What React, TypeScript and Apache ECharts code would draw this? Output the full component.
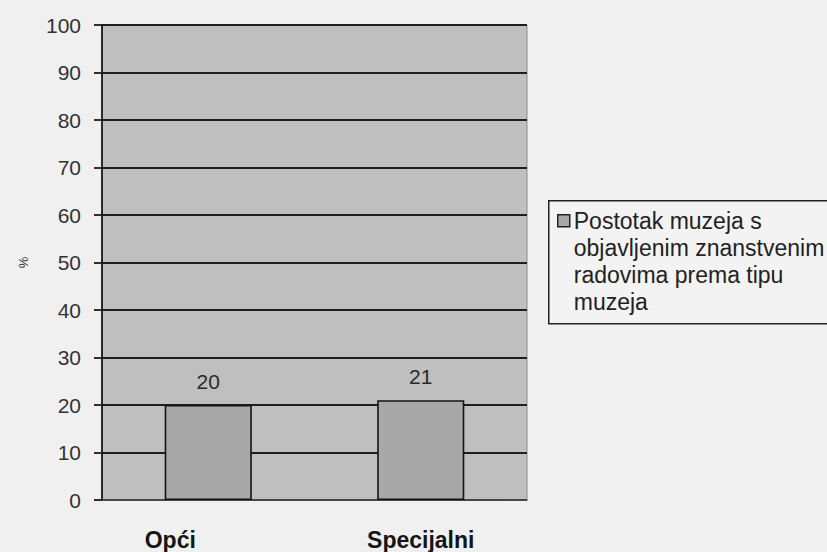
import React, { useEffect, useRef } from "react";
import * as echarts from "echarts";

// Chart data
const categories = ["Opći", "Specijalni"];
const percentValues = [20, 21];
const seriesName = "Postotak muzeja s objavljenim znanstvenim radovima prema tipu muzeja";
const legendLines = ["Postotak muzeja s", "objavljenim znanstvenim", "radovima prema tipu", "muzeja"];
const yTickMin = 0;
const yTickMax = 100;
const yTickStep = 10;
const yAxisTitle = "%";

const FONT = "'Liberation Sans', Arial, Helvetica, sans-serif";

export default function App() {
  const ref = useRef<HTMLDivElement>(null);

  useEffect(() => {
    if (!ref.current) return;
    const chart = echarts.init(ref.current, undefined, { renderer: "svg" });

    // horizontal nudge of each category caption (in px of right padding)
    const captionShift = [76, 0];

    chart.setOption({
      animation: false,
      backgroundColor: "#f0f0f0",
      textStyle: { fontFamily: FONT },
      grid: {
        left: 102,
        right: 300,
        top: 25,
        bottom: 52,
        show: true,
        backgroundColor: "#bfbfbf",
        borderColor: "#8c8c8c",
        borderWidth: 1,
      },
      xAxis: {
        type: "category",
        data: categories.map((c, i) => ({
          value: c,
          textStyle: { padding: [0, captionShift[i], 0, 0] },
        })),
        axisTick: { show: false },
        axisLine: { lineStyle: { color: "#555", width: 1.5 } },
        axisLabel: {
          margin: 28,
          fontSize: 23,
          fontWeight: "bold",
          color: "#151515",
          fontFamily: FONT,
        },
      },
      yAxis: {
        type: "value",
        min: yTickMin,
        max: yTickMax,
        interval: yTickStep,
        name: yAxisTitle,
        nameLocation: "middle",
        nameRotate: 90,
        nameGap: 72,
        nameTextStyle: { fontSize: 13, color: "#333", fontFamily: FONT },
        axisLine: { show: true, lineStyle: { color: "#1a1a1a", width: 1.8 } },
        axisTick: { show: true, length: 8, lineStyle: { color: "#1a1a1a", width: 1.8 } },
        axisLabel: { margin: 21, fontSize: 21, color: "#333", fontFamily: FONT },
        splitLine: { show: true, lineStyle: { color: "#1e1e1e", width: 2 } },
      },
      series: [
        {
          name: seriesName,
          type: "bar",
          data: percentValues,
          barWidth: "41%",
          itemStyle: { color: "#a8a8a8", borderColor: "#141414", borderWidth: 1.6 },
          label: {
            show: true,
            position: "top",
            distance: 13,
            fontSize: 21,
            color: "#2a2a2a",
            fontFamily: FONT,
          },
        },
      ],
      graphic: [
        {
          type: "group",
          left: 548,
          top: 200,
          children: [
            {
              type: "rect",
              shape: { x: 0, y: 0, width: 300, height: 123 },
              style: { fill: "#f3f3f3", stroke: "#222", lineWidth: 1.5 },
            },
            {
              type: "rect",
              shape: { x: 9, y: 14, width: 12, height: 12 },
              style: { fill: "#a8a8a8", stroke: "#222", lineWidth: 1.5 },
            },
            {
              type: "text",
              x: 25,
              y: 7,
              style: {
                text: legendLines.join("\n"),
                font: `23px ${FONT}`,
                lineHeight: 27,
                fill: "#222",
              },
            },
          ],
        },
      ],
    });

    return () => chart.dispose();
  }, []);

  return (
    <div
      ref={ref}
      style={{ position: "fixed", left: 0, top: 0, width: 827, height: 552 }}
    />
  );
}
